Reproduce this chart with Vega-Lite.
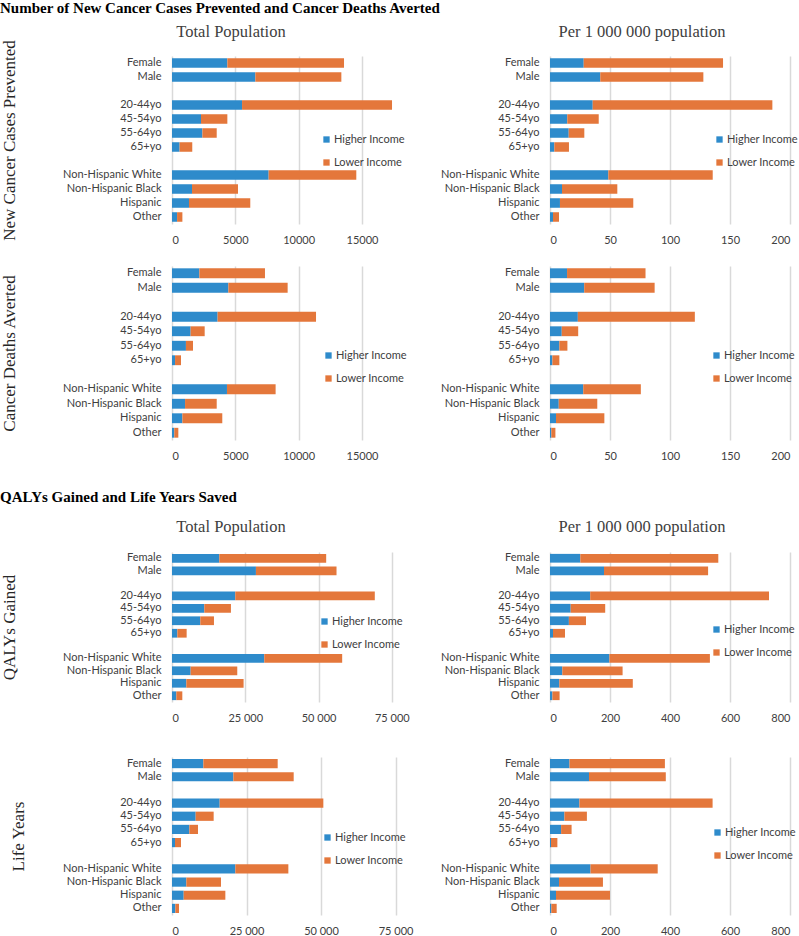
{
  "$schema": "https://vega.github.io/schema/vega-lite/v6.json",
  "padding": {"top": 0, "left": 0, "right": 0, "bottom": 0},
  "background": "white",
  "config": {
    "view": {"stroke": null},
    "axis": {"labelFont": "Lato", "labelFontSize": 11, "labelColor": "#404040", "ticks": false, "tickSize": 0, "domain": false, "labelPadding": 10},
    "axisX": {"grid": true, "gridColor": "#d9d9d9", "gridWidth": 1.5},
    "axisY": {"grid": false, "labelPadding": 11, "titleFont": "Liberation Serif", "titleFontSize": 17, "titleFontWeight": "normal", "titleColor": "#262626", "titleBaseline": "bottom", "titleAlign": "center"},
    "legend": {"labelFont": "Lato", "labelFontSize": 11, "labelColor": "#404040", "symbolType": "square", "symbolSize": 40, "symbolStrokeWidth": 0, "rowPadding": 11, "padding": 0, "labelOffset": 2},
    "title": {"font": "Liberation Serif", "fontSize": 16.5, "fontWeight": "normal", "color": "#404040"}
  },
  "datasets": {
    "d": [
      {"m": "cases", "s": "tot", "group": "Female", "Higher Income": 4370, "Lower Income": 9210},
      {"m": "cases", "s": "tot", "group": "Male", "Higher Income": 6580, "Lower Income": 6790},
      {"m": "cases", "s": "tot", "group": "20-44yo", "Higher Income": 5530, "Lower Income": 11840},
      {"m": "cases", "s": "tot", "group": "45-54yo", "Higher Income": 2290, "Lower Income": 2080},
      {"m": "cases", "s": "tot", "group": "55-64yo", "Higher Income": 2400, "Lower Income": 1130},
      {"m": "cases", "s": "tot", "group": "65+yo", "Higher Income": 600, "Lower Income": 1000},
      {"m": "cases", "s": "tot", "group": "Non-Hispanic White", "Higher Income": 7630, "Lower Income": 6920},
      {"m": "cases", "s": "tot", "group": "Non-Hispanic Black", "Higher Income": 1580, "Lower Income": 3630},
      {"m": "cases", "s": "tot", "group": "Hispanic", "Higher Income": 1340, "Lower Income": 4840},
      {"m": "cases", "s": "tot", "group": "Other", "Higher Income": 400, "Lower Income": 420},

      {"m": "cases", "s": "per", "group": "Female", "Higher Income": 28.1, "Lower Income": 116.1},
      {"m": "cases", "s": "per", "group": "Male", "Higher Income": 41.9, "Lower Income": 85.9},
      {"m": "cases", "s": "per", "group": "20-44yo", "Higher Income": 35.6, "Lower Income": 149.7},
      {"m": "cases", "s": "per", "group": "45-54yo", "Higher Income": 14.4, "Lower Income": 26.2},
      {"m": "cases", "s": "per", "group": "55-64yo", "Higher Income": 15.6, "Lower Income": 13},
      {"m": "cases", "s": "per", "group": "65+yo", "Higher Income": 3.6, "Lower Income": 12.2},
      {"m": "cases", "s": "per", "group": "Non-Hispanic White", "Higher Income": 48.6, "Lower Income": 87},
      {"m": "cases", "s": "per", "group": "Non-Hispanic Black", "Higher Income": 10, "Lower Income": 46.1},
      {"m": "cases", "s": "per", "group": "Hispanic", "Higher Income": 8.3, "Lower Income": 61.1},
      {"m": "cases", "s": "per", "group": "Other", "Higher Income": 2.5, "Lower Income": 5},

      {"m": "deaths", "s": "tot", "group": "Female", "Higher Income": 2160, "Lower Income": 5180},
      {"m": "deaths", "s": "tot", "group": "Male", "Higher Income": 4450, "Lower Income": 4680},
      {"m": "deaths", "s": "tot", "group": "20-44yo", "Higher Income": 3600, "Lower Income": 7770},
      {"m": "deaths", "s": "tot", "group": "45-54yo", "Higher Income": 1470, "Lower Income": 1110},
      {"m": "deaths", "s": "tot", "group": "55-64yo", "Higher Income": 1100, "Lower Income": 560},
      {"m": "deaths", "s": "tot", "group": "65+yo", "Higher Income": 240, "Lower Income": 470},
      {"m": "deaths", "s": "tot", "group": "Non-Hispanic White", "Higher Income": 4340, "Lower Income": 3840},
      {"m": "deaths", "s": "tot", "group": "Non-Hispanic Black", "Higher Income": 1030, "Lower Income": 2500},
      {"m": "deaths", "s": "tot", "group": "Hispanic", "Higher Income": 820, "Lower Income": 3150},
      {"m": "deaths", "s": "tot", "group": "Other", "Higher Income": 180, "Lower Income": 320},

      {"m": "deaths", "s": "per", "group": "Female", "Higher Income": 14.2, "Lower Income": 65.4},
      {"m": "deaths", "s": "per", "group": "Male", "Higher Income": 28.5, "Lower Income": 58.7},
      {"m": "deaths", "s": "per", "group": "20-44yo", "Higher Income": 23.2, "Lower Income": 97.5},
      {"m": "deaths", "s": "per", "group": "45-54yo", "Higher Income": 9.8, "Lower Income": 13.7},
      {"m": "deaths", "s": "per", "group": "55-64yo", "Higher Income": 7.8, "Lower Income": 6.7},
      {"m": "deaths", "s": "per", "group": "65+yo", "Higher Income": 2, "Lower Income": 5.8},
      {"m": "deaths", "s": "per", "group": "Non-Hispanic White", "Higher Income": 27.7, "Lower Income": 48},
      {"m": "deaths", "s": "per", "group": "Non-Hispanic Black", "Higher Income": 7.3, "Lower Income": 32.1},
      {"m": "deaths", "s": "per", "group": "Hispanic", "Higher Income": 5, "Lower Income": 40.3},
      {"m": "deaths", "s": "per", "group": "Other", "Higher Income": 1.1, "Lower Income": 3.4},

      {"m": "qaly", "s": "tot", "group": "Female", "Higher Income": 16140, "Lower Income": 36470},
      {"m": "qaly", "s": "tot", "group": "Male", "Higher Income": 28640, "Lower Income": 27500},
      {"m": "qaly", "s": "tot", "group": "20-44yo", "Higher Income": 21590, "Lower Income": 47610},
      {"m": "qaly", "s": "tot", "group": "45-54yo", "Higher Income": 11020, "Lower Income": 9090},
      {"m": "qaly", "s": "tot", "group": "55-64yo", "Higher Income": 9660, "Lower Income": 4660},
      {"m": "qaly", "s": "tot", "group": "65+yo", "Higher Income": 1820, "Lower Income": 3180},
      {"m": "qaly", "s": "tot", "group": "Non-Hispanic White", "Higher Income": 31480, "Lower Income": 26590},
      {"m": "qaly", "s": "tot", "group": "Non-Hispanic Black", "Higher Income": 6360, "Lower Income": 15910},
      {"m": "qaly", "s": "tot", "group": "Hispanic", "Higher Income": 4890, "Lower Income": 19540},
      {"m": "qaly", "s": "tot", "group": "Other", "Higher Income": 1480, "Lower Income": 2040},

      {"m": "qaly", "s": "per", "group": "Female", "Higher Income": 101, "Lower Income": 460},
      {"m": "qaly", "s": "per", "group": "Male", "Higher Income": 180, "Lower Income": 347},
      {"m": "qaly", "s": "per", "group": "20-44yo", "Higher Income": 134, "Lower Income": 596},
      {"m": "qaly", "s": "per", "group": "45-54yo", "Higher Income": 69, "Lower Income": 115},
      {"m": "qaly", "s": "per", "group": "55-64yo", "Higher Income": 63, "Lower Income": 57},
      {"m": "qaly", "s": "per", "group": "65+yo", "Higher Income": 10, "Lower Income": 40},
      {"m": "qaly", "s": "per", "group": "Non-Hispanic White", "Higher Income": 198, "Lower Income": 335},
      {"m": "qaly", "s": "per", "group": "Non-Hispanic Black", "Higher Income": 41, "Lower Income": 201},
      {"m": "qaly", "s": "per", "group": "Hispanic", "Higher Income": 31, "Lower Income": 245},
      {"m": "qaly", "s": "per", "group": "Other", "Higher Income": 8, "Lower Income": 24},

      {"m": "ly", "s": "tot", "group": "Female", "Higher Income": 10520, "Lower Income": 24940},
      {"m": "ly", "s": "tot", "group": "Male", "Higher Income": 20580, "Lower Income": 20250},
      {"m": "ly", "s": "tot", "group": "20-44yo", "Higher Income": 16000, "Lower Income": 34780},
      {"m": "ly", "s": "tot", "group": "45-54yo", "Higher Income": 7940, "Lower Income": 6040},
      {"m": "ly", "s": "tot", "group": "55-64yo", "Higher Income": 5820, "Lower Income": 2910},
      {"m": "ly", "s": "tot", "group": "65+yo", "Higher Income": 1010, "Lower Income": 2010},
      {"m": "ly", "s": "tot", "group": "Non-Hispanic White", "Higher Income": 21250, "Lower Income": 17790},
      {"m": "ly", "s": "tot", "group": "Non-Hispanic Black", "Higher Income": 4810, "Lower Income": 11630},
      {"m": "ly", "s": "tot", "group": "Hispanic", "Higher Income": 3920, "Lower Income": 13980},
      {"m": "ly", "s": "tot", "group": "Other", "Higher Income": 1120, "Lower Income": 1230},

      {"m": "ly", "s": "per", "group": "Female", "Higher Income": 65, "Lower Income": 318},
      {"m": "ly", "s": "per", "group": "Male", "Higher Income": 130, "Lower Income": 256},
      {"m": "ly", "s": "per", "group": "20-44yo", "Higher Income": 98, "Lower Income": 444},
      {"m": "ly", "s": "per", "group": "45-54yo", "Higher Income": 48, "Lower Income": 75},
      {"m": "ly", "s": "per", "group": "55-64yo", "Higher Income": 37, "Lower Income": 35},
      {"m": "ly", "s": "per", "group": "65+yo", "Higher Income": 3.4, "Lower Income": 21.2},
      {"m": "ly", "s": "per", "group": "Non-Hispanic White", "Higher Income": 135, "Lower Income": 224},
      {"m": "ly", "s": "per", "group": "Non-Hispanic Black", "Higher Income": 30, "Lower Income": 146.5},
      {"m": "ly", "s": "per", "group": "Hispanic", "Higher Income": 20, "Lower Income": 180},
      {"m": "ly", "s": "per", "group": "Other", "Higher Income": 4.5, "Lower Income": 17.8}
    ]
  },
  "spacing": 21,
  "resolve": {"scale": {"color": "independent"}, "legend": {"color": "independent"}},
  "vconcat": [
    {
      "title": {"text": "Number of New Cancer Cases Prevented and Cancer Deaths Averted", "anchor": "start", "font": "Liberation Serif", "fontSize": 15, "fontWeight": "bold", "color": "#000000", "offset": 8},
      "bounds": "flush",
      "spacing": 150,
      "resolve": {"scale": {"color": "independent"}, "legend": {"color": "independent"}},
      "hconcat": [
        {
          "width": 228, "height": 168,
          "title": {"text": "Total Population", "frame": "group", "dx": -55, "offset": -1},
          "data": {"name": "d"},
          "transform": [{"filter": "datum.m === 'cases' && datum.s === 'tot'"}, {"fold": ["Higher Income", "Lower Income"], "as": ["income", "value"]}],
          "mark": {"type": "bar"},
          "encoding": {
            "y": {"field": "group", "type": "nominal", "scale": {"domain": ["Female", "Male", " ", "20-44yo", "45-54yo", "55-64yo", "65+yo", "  ", "Non-Hispanic White", "Non-Hispanic Black", "Hispanic", "Other"], "paddingInner": 0.32, "paddingOuter": 0.16}, "axis": {"title": "New Cancer Cases Prevented", "titleX": -154}},
            "x": {"field": "value", "type": "quantitative", "stack": "zero", "scale": {"domain": [0, 18000], "nice": false}, "axis": {"title": null, "values": [0, 5000, 10000, 15000], "format": "d"}},
            "color": {"field": "income", "type": "nominal", "scale": {"domain": ["Higher Income", "Lower Income"], "range": ["#2e8bcb", "#e4773b"]}, "legend": {"title": null, "orient": "none", "legendX": 149, "legendY": 78}},
            "order": {"field": "income", "sort": "ascending"}
          }
        },
        {
          "width": 240, "height": 168,
          "title": {"text": "Per 1 000 000 population", "frame": "group", "dx": -28, "offset": 16},
          "data": {"name": "d"},
          "transform": [{"filter": "datum.m === 'cases' && datum.s === 'per'"}, {"fold": ["Higher Income", "Lower Income"], "as": ["income", "value"]}],
          "mark": {"type": "bar"},
          "encoding": {
            "y": {"field": "group", "type": "nominal", "scale": {"domain": ["Female", "Male", " ", "20-44yo", "45-54yo", "55-64yo", "65+yo", "  ", "Non-Hispanic White", "Non-Hispanic Black", "Hispanic", "Other"], "paddingInner": 0.32, "paddingOuter": 0.16}, "axis": {"title": null}},
            "x": {"field": "value", "type": "quantitative", "stack": "zero", "scale": {"domain": [0, 200], "nice": false}, "axis": {"title": null, "values": [0, 50, 100, 150, 200]}},
            "color": {"field": "income", "type": "nominal", "scale": {"domain": ["Higher Income", "Lower Income"], "range": ["#2e8bcb", "#e4773b"]}, "legend": {"title": null, "orient": "none", "legendX": 164, "legendY": 78}},
            "order": {"field": "income", "sort": "ascending"}
          }
        }
      ]
    },
    {
      "bounds": "flush",
      "spacing": 150,
      "resolve": {"scale": {"color": "independent"}, "legend": {"color": "independent"}},
      "hconcat": [
        {
          "width": 228, "height": 174,
          "data": {"name": "d"},
          "transform": [{"filter": "datum.m === 'deaths' && datum.s === 'tot'"}, {"fold": ["Higher Income", "Lower Income"], "as": ["income", "value"]}],
          "mark": {"type": "bar"},
          "encoding": {
            "y": {"field": "group", "type": "nominal", "scale": {"domain": ["Female", "Male", " ", "20-44yo", "45-54yo", "55-64yo", "65+yo", "  ", "Non-Hispanic White", "Non-Hispanic Black", "Hispanic", "Other"], "paddingInner": 0.32, "paddingOuter": 0.16}, "axis": {"title": "Cancer Deaths Averted", "titleX": -154}},
            "x": {"field": "value", "type": "quantitative", "stack": "zero", "scale": {"domain": [0, 18000], "nice": false}, "axis": {"title": null, "values": [0, 5000, 10000, 15000], "format": "d", "minExtent": 27.5}},
            "color": {"field": "income", "type": "nominal", "scale": {"domain": ["Higher Income", "Lower Income"], "range": ["#2e8bcb", "#e4773b"]}, "legend": {"title": null, "orient": "none", "legendX": 151, "legendY": 84}},
            "order": {"field": "income", "sort": "ascending"}
          }
        },
        {
          "width": 240, "height": 174,
          "data": {"name": "d"},
          "transform": [{"filter": "datum.m === 'deaths' && datum.s === 'per'"}, {"fold": ["Higher Income", "Lower Income"], "as": ["income", "value"]}],
          "mark": {"type": "bar"},
          "encoding": {
            "y": {"field": "group", "type": "nominal", "scale": {"domain": ["Female", "Male", " ", "20-44yo", "45-54yo", "55-64yo", "65+yo", "  ", "Non-Hispanic White", "Non-Hispanic Black", "Hispanic", "Other"], "paddingInner": 0.32, "paddingOuter": 0.16}, "axis": {"title": null}},
            "x": {"field": "value", "type": "quantitative", "stack": "zero", "scale": {"domain": [0, 200], "nice": false}, "axis": {"title": null, "values": [0, 50, 100, 150, 200], "minExtent": 27.5}},
            "color": {"field": "income", "type": "nominal", "scale": {"domain": ["Higher Income", "Lower Income"], "range": ["#2e8bcb", "#e4773b"]}, "legend": {"title": null, "orient": "none", "legendX": 161, "legendY": 84}},
            "order": {"field": "income", "sort": "ascending"}
          }
        }
      ]
    },
    {
      "title": {"text": "QALYs Gained and Life Years Saved", "anchor": "start", "font": "Liberation Serif", "fontSize": 15, "fontWeight": "bold", "color": "#000000", "offset": 14},
      "bounds": "flush",
      "spacing": 150,
      "resolve": {"scale": {"color": "independent"}, "legend": {"color": "independent"}},
      "hconcat": [
        {
          "width": 228, "height": 150,
          "title": {"text": "Total Population", "frame": "group", "dx": -55, "offset": 16.5},
          "data": {"name": "d"},
          "transform": [{"filter": "datum.m === 'qaly' && datum.s === 'tot'"}, {"fold": ["Higher Income", "Lower Income"], "as": ["income", "value"]}],
          "mark": {"type": "bar"},
          "encoding": {
            "y": {"field": "group", "type": "nominal", "scale": {"domain": ["Female", "Male", " ", "20-44yo", "45-54yo", "55-64yo", "65+yo", "  ", "Non-Hispanic White", "Non-Hispanic Black", "Hispanic", "Other"], "paddingInner": 0.3, "paddingOuter": 0.15}, "axis": {"title": "QALYs Gained", "titleX": -154}},
            "x": {"field": "value", "type": "quantitative", "stack": "zero", "scale": {"domain": [0, 77800], "nice": false}, "axis": {"title": null, "values": [0, 25000, 50000, 75000], "labelExpr": "replace(format(datum.value, ','), ',', ' ')", "minExtent": 34}},
            "color": {"field": "income", "type": "nominal", "scale": {"domain": ["Higher Income", "Lower Income"], "range": ["#2e8bcb", "#e4773b"]}, "legend": {"title": null, "orient": "none", "legendX": 147, "legendY": 64}},
            "order": {"field": "income", "sort": "ascending"}
          }
        },
        {
          "width": 240, "height": 150,
          "title": {"text": "Per 1 000 000 population", "frame": "group", "dx": -28, "offset": 16.5},
          "data": {"name": "d"},
          "transform": [{"filter": "datum.m === 'qaly' && datum.s === 'per'"}, {"fold": ["Higher Income", "Lower Income"], "as": ["income", "value"]}],
          "mark": {"type": "bar"},
          "encoding": {
            "y": {"field": "group", "type": "nominal", "scale": {"domain": ["Female", "Male", " ", "20-44yo", "45-54yo", "55-64yo", "65+yo", "  ", "Non-Hispanic White", "Non-Hispanic Black", "Hispanic", "Other"], "paddingInner": 0.3, "paddingOuter": 0.15}, "axis": {"title": null}},
            "x": {"field": "value", "type": "quantitative", "stack": "zero", "scale": {"domain": [0, 800], "nice": false}, "axis": {"title": null, "values": [0, 200, 400, 600, 800], "minExtent": 34}},
            "color": {"field": "income", "type": "nominal", "scale": {"domain": ["Higher Income", "Lower Income"], "range": ["#2e8bcb", "#e4773b"]}, "legend": {"title": null, "orient": "none", "legendX": 161, "legendY": 72}},
            "order": {"field": "income", "sort": "ascending"}
          }
        }
      ]
    },
    {
      "bounds": "flush",
      "spacing": 150,
      "resolve": {"scale": {"color": "independent"}, "legend": {"color": "independent"}},
      "hconcat": [
        {
          "width": 228, "height": 158,
          "data": {"name": "d"},
          "transform": [{"filter": "datum.m === 'ly' && datum.s === 'tot'"}, {"fold": ["Higher Income", "Lower Income"], "as": ["income", "value"]}],
          "mark": {"type": "bar"},
          "encoding": {
            "y": {"field": "group", "type": "nominal", "scale": {"domain": ["Female", "Male", " ", "20-44yo", "45-54yo", "55-64yo", "65+yo", "  ", "Non-Hispanic White", "Non-Hispanic Black", "Hispanic", "Other"], "paddingInner": 0.3, "paddingOuter": 0.15}, "axis": {"title": "Life Years", "titleX": -145}},
            "x": {"field": "value", "type": "quantitative", "stack": "zero", "scale": {"domain": [0, 76500], "nice": false}, "axis": {"title": null, "values": [0, 25000, 50000, 75000], "labelExpr": "replace(format(datum.value, ','), ',', ' ')"}},
            "color": {"field": "income", "type": "nominal", "scale": {"domain": ["Higher Income", "Lower Income"], "range": ["#2e8bcb", "#e4773b"]}, "legend": {"title": null, "orient": "none", "legendX": 150, "legendY": 75}},
            "order": {"field": "income", "sort": "ascending"}
          }
        },
        {
          "width": 240, "height": 158,
          "data": {"name": "d"},
          "transform": [{"filter": "datum.m === 'ly' && datum.s === 'per'"}, {"fold": ["Higher Income", "Lower Income"], "as": ["income", "value"]}],
          "mark": {"type": "bar"},
          "encoding": {
            "y": {"field": "group", "type": "nominal", "scale": {"domain": ["Female", "Male", " ", "20-44yo", "45-54yo", "55-64yo", "65+yo", "  ", "Non-Hispanic White", "Non-Hispanic Black", "Hispanic", "Other"], "paddingInner": 0.3, "paddingOuter": 0.15}, "axis": {"title": null}},
            "x": {"field": "value", "type": "quantitative", "stack": "zero", "scale": {"domain": [0, 800], "nice": false}, "axis": {"title": null, "values": [0, 200, 400, 600, 800]}},
            "color": {"field": "income", "type": "nominal", "scale": {"domain": ["Higher Income", "Lower Income"], "range": ["#2e8bcb", "#e4773b"]}, "legend": {"title": null, "orient": "none", "legendX": 162, "legendY": 70}},
            "order": {"field": "income", "sort": "ascending"}
          }
        }
      ]
    }
  ]
}
